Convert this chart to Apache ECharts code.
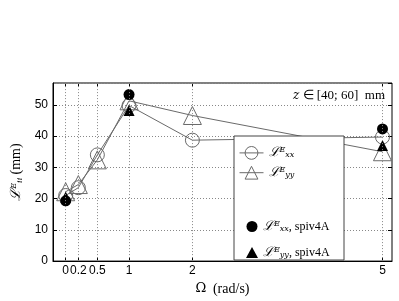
<!DOCTYPE html>
<html>
<head>
<meta charset="utf-8">
<script src="https://cdn.jsdelivr.net/npm/echarts@6/dist/echarts.min.js"></script>
<style>html,body{margin:0;padding:0;background:#fff}#c{width:399px;height:301px}</style>
</head>
<body>
<div id="c"></div>
<script>
// Data
var omegaTicks = [0, 0.2, 0.5, 1, 2, 5];
var yTicks = [0, 10, 20, 30, 40, 50];
var omega = [0, 0.2, 0.5, 1, 2, 5];
var lxx = [21, 23.5, 34, 49.8, 38.7, 39.7];
var lyy = [22.2, 24.5, 32.4, 51.3, 46.6, 35];
var spivOmega = [0, 1, 5];
var spivLxx = [19.3, 53.3, 42.3];
var spivLyy = [20.5, 48.2, 37];
var seriesNames = ['Lxx', 'Lyy', 'Lxx_spiv', 'Lyy_spiv'];

function pairs(xs, ys) { return xs.map(function (x, i) { return [x, ys[i]]; }); }

var serif = '"DejaVu Serif", "Liberation Serif", serif';
var sans = '"Liberation Sans", Arial, sans-serif';
var rich = {
  L: { fontFamily: serif, fontStyle: 'italic', fontSize: 13, color: '#000' },
  sup: { fontFamily: serif, fontStyle: 'italic', fontSize: 8, color: '#000', verticalAlign: 'top' },
  sub: { fontFamily: serif, fontStyle: 'italic', fontSize: 8, color: '#000', verticalAlign: 'bottom' },
  t: { fontFamily: '"Liberation Serif", serif', fontSize: 12, color: '#000' }
};
var legendText = {
  'Lxx': '{L|ℒ}{sup|E}{sub|xx}',
  'Lyy': '{L|ℒ}{sup|E}{sub|yy}',
  'Lxx_spiv': '{L|ℒ}{sup|E}{sub|xx}{t|, spiv4A}',
  'Lyy_spiv': '{L|ℒ}{sup|E}{sub|yy}{t|, spiv4A}'
};

var chart = echarts.init(document.getElementById('c'));
var grey = '#6a6a6a';
chart.setOption({
  animation: false,
  backgroundColor: '#fff',
  grid: { left: 53, right: 7, top: 83, bottom: 33, show: true, borderColor: '#000', borderWidth: 1, backgroundColor: 'transparent' },
  xAxis: [{
    type: 'value', min: -0.2, max: 5.15,
    name: '{o|Ω}  {t|(rad/s)}', nameLocation: 'middle', nameGap: 20,
    nameTextStyle: { rich: { o: { fontFamily: serif, fontSize: 13, color: '#000' }, t: { fontFamily: '"Liberation Serif", serif', fontSize: 14, color: '#000' } } },
    axisLine: { onZero: false, lineStyle: { color: '#000', width: 1 } },
    axisTick: { inside: true, length: 4, customValues: omegaTicks, lineStyle: { color: '#000' } },
    axisLabel: { customValues: omegaTicks, fontFamily: sans, fontSize: 12, color: '#000', margin: 4, hideOverlap: false, formatter: function (v) { return String(v); } },
    splitLine: { show: false }
  }, {
    type: 'value', min: -0.2, max: 5.15, position: 'top',
    axisLine: { show: false, onZero: false },
    axisTick: { inside: true, length: 4, customValues: omegaTicks, lineStyle: { color: '#000' } },
    axisLabel: { show: false },
    splitLine: { show: false }
  }],
  yAxis: [{
    type: 'value', min: 0, max: 57, interval: 10,
    name: '{L|ℒ}{sup|E}{sub|ii} {t|(mm)}', nameLocation: 'middle', nameGap: 24, nameRotate: 90,
    nameTextStyle: { rich: { L: { fontFamily: serif, fontStyle: 'italic', fontSize: 14, color: '#000' }, sup: rich.sup, sub: rich.sub, t: { fontFamily: '"Liberation Serif", serif', fontSize: 14, color: '#000' } } },
    axisLine: { onZero: false, lineStyle: { color: '#000', width: 1 } },
    axisTick: { inside: true, length: 4, lineStyle: { color: '#000' } },
    axisLabel: { fontFamily: sans, fontSize: 12, color: '#000', margin: 5, showMaxLabel: false },
    splitLine: { show: true, lineStyle: { type: [1, 2], color: '#888', width: 1 } }
  }, {
    type: 'value', min: 0, max: 57, interval: 10, position: 'right',
    axisLine: { show: false, onZero: false },
    axisTick: { inside: true, length: 4, lineStyle: { color: '#000' } },
    axisLabel: { show: false },
    splitLine: { show: false }
  }],
  legend: [{
    data: ['Lxx', 'Lyy'],
    orient: 'vertical', left: 234, top: 141, itemGap: 6, itemWidth: 24, itemHeight: 16, z: 10,
    itemStyle: { borderWidth: 1 }, lineStyle: { width: 1 },
    formatter: function (n) { return legendText[n]; },
    textStyle: { rich: rich }
  }, {
    data: ['Lxx_spiv', 'Lyy_spiv'],
    orient: 'vertical', left: 241, top: 215, itemGap: 13, itemWidth: 12, itemHeight: 11, z: 10,
    itemStyle: { borderWidth: 0, opacity: 1 },
    formatter: function (n) { return legendText[n]; },
    textStyle: { rich: rich }
  }],
  graphic: [{
    type: 'rect', shape: { x: 234, y: 136, width: 110, height: 124 },
    style: { fill: '#fff', stroke: '#444', lineWidth: 1 }, z: 5
  }, {
    type: 'text', right: 14, top: 89, z: 10,
    style: { text: '{i|z} ∈ [40; 60]  mm', rich: { i: { fontFamily: serif, fontStyle: 'italic', fontSize: 12, fill: '#000' } }, font: '13px "Liberation Serif", serif', fill: '#000' }
  }],
  series: [{
    type: 'line', name: 'gridx', data: [], silent: true, z: 0,
    markLine: {
      silent: true, symbol: 'none', label: { show: false },
      lineStyle: { type: [1, 2], color: '#888', width: 1 },
      data: omegaTicks.map(function (v) { return { xAxis: v }; })
    }
  }, {
    type: 'line', name: seriesNames[0], data: pairs(omega, lxx),
    symbol: 'circle', symbolSize: 14, z: 3,
    lineStyle: { color: grey, width: 1 },
    itemStyle: { color: 'rgba(255,255,255,0)', borderColor: grey, borderWidth: 1 }
  }, {
    type: 'line', name: seriesNames[1], data: pairs(omega, lyy),
    symbol: 'triangle', symbolSize: 18, z: 3,
    lineStyle: { color: grey, width: 1 },
    itemStyle: { color: 'rgba(255,255,255,0)', borderColor: grey, borderWidth: 1 }
  }, {
    type: 'scatter', name: seriesNames[2], data: pairs(spivOmega, spivLxx),
    symbol: 'circle', symbolSize: 11, z: 4,
    itemStyle: { color: '#000', opacity: 1 }
  }, {
    type: 'scatter', name: seriesNames[3], data: pairs(spivOmega, spivLyy),
    symbol: 'triangle', symbolSize: 11, z: 4,
    itemStyle: { color: '#000', opacity: 1 }
  }]
});
</script>
</body>
</html>
